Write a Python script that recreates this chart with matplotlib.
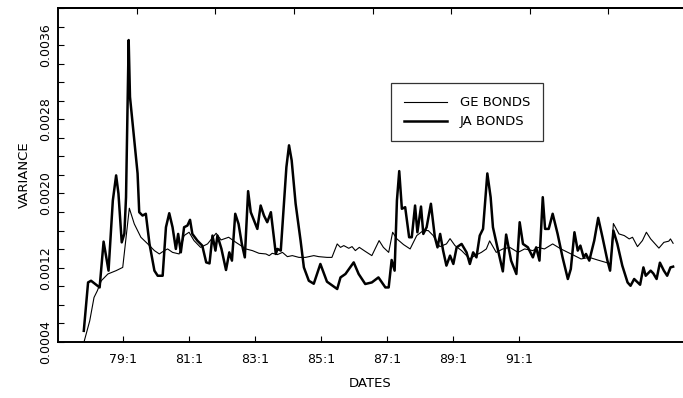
import numpy as np
import matplotlib
matplotlib.use('Agg')
import matplotlib.pyplot as plt
from matplotlib.ticker import MultipleLocator, FixedLocator, FuncFormatter

# JA bonds variance (thick line)
ja_dates = [1977.81, 1977.94, 1978.03, 1978.29, 1978.41, 1978.56, 1978.69, 1978.79, 1978.86, 1978.96,
            1979.04, 1979.09, 1979.17, 1979.21, 1979.34, 1979.44, 1979.49, 1979.59, 1979.69, 1979.80,
            1979.95, 1980.05, 1980.20, 1980.30, 1980.40, 1980.50, 1980.60, 1980.67, 1980.75, 1980.85,
            1980.95, 1981.03, 1981.10, 1981.25, 1981.40, 1981.52, 1981.62, 1981.71, 1981.80, 1981.86,
            1981.98, 1982.12, 1982.22, 1982.30, 1982.40, 1982.50, 1982.60, 1982.69, 1982.79, 1982.87,
            1982.97, 1983.07, 1983.17, 1983.27, 1983.37, 1983.48, 1983.63, 1983.68, 1983.78, 1983.95,
            1984.03, 1984.11, 1984.23, 1984.38, 1984.48, 1984.63, 1984.78, 1984.98, 1985.18, 1985.49,
            1985.59, 1985.74, 1985.99, 1986.14, 1986.34, 1986.54, 1986.74, 1986.95, 1987.05, 1987.14,
            1987.23, 1987.30, 1987.37, 1987.45, 1987.55, 1987.67, 1987.75, 1987.85, 1987.92, 1988.03,
            1988.10, 1988.20, 1988.33, 1988.45, 1988.53, 1988.61, 1988.70, 1988.80, 1988.91, 1989.01,
            1989.11, 1989.26, 1989.41, 1989.51, 1989.61, 1989.71, 1989.81, 1989.91, 1990.04, 1990.14,
            1990.21, 1990.36, 1990.51, 1990.61, 1990.76, 1990.92, 1991.02, 1991.12, 1991.27, 1991.42,
            1991.52, 1991.62, 1991.72, 1991.79, 1991.90, 1992.02, 1992.17, 1992.32, 1992.48, 1992.57,
            1992.68, 1992.78, 1992.86, 1992.96, 1993.03, 1993.13, 1993.28, 1993.40, 1993.53, 1993.68,
            1993.76, 1993.86, 1993.98, 1994.13, 1994.29, 1994.38, 1994.49, 1994.67, 1994.77, 1994.84,
            1994.99, 1995.07, 1995.17, 1995.27, 1995.39, 1995.49, 1995.59, 1995.67]
ja_var = [5.19, 10.41, 10.59, 9.87, 14.81, 11.68, 19.24, 21.95, 20.00, 14.73,
          15.68, 19.60, 36.54, 30.41, 25.73, 22.16, 17.98, 17.62, 17.81, 14.59,
          11.68, 11.13, 11.13, 16.36, 17.87, 16.36, 14.02, 15.64, 13.65, 16.36,
          16.54, 17.16, 15.64, 14.92, 14.38, 12.57, 12.46, 15.46, 13.84, 15.46,
          14.05, 11.75, 13.65, 12.76, 17.81, 16.72, 14.56, 13.11, 20.25, 17.98,
          17.08, 16.18, 18.70, 17.62, 16.90, 17.98, 13.48, 14.02, 13.84, 22.84,
          25.19, 23.57, 18.89, 14.92, 12.03, 10.59, 10.27, 12.40, 10.49, 9.70,
          10.95, 11.32, 12.57, 11.32, 10.24, 10.41, 10.95, 9.87, 9.87, 12.83,
          11.68, 19.24, 22.41, 18.35, 18.52, 15.28, 15.28, 18.70, 15.82, 18.59,
          15.64, 16.36, 18.89, 15.28, 14.19, 15.64, 13.84, 12.22, 13.30, 12.40,
          14.19, 14.56, 13.65, 12.40, 13.65, 13.11, 15.46, 16.18, 22.16, 19.60,
          16.36, 13.95, 11.60, 15.57, 12.76, 11.32, 16.90, 14.56, 14.19, 13.11,
          14.19, 12.76, 19.60, 16.18, 16.18, 17.81, 15.64, 13.11, 10.78, 11.86,
          15.82, 13.84, 14.38, 13.11, 13.48, 12.76, 14.92, 17.37, 15.28, 12.76,
          11.68, 16.00, 14.56, 12.22, 10.41, 10.05, 10.78, 10.16, 12.03, 11.13,
          11.68, 11.38, 10.78, 12.54, 11.68, 11.13, 12.03, 12.11]

# GE bonds variance (thin line)
ge_dates = [1977.81, 1977.99, 1978.12, 1978.22, 1978.34, 1978.54, 1978.79, 1978.99, 1979.19, 1979.34,
            1979.54, 1979.75, 1979.95, 1980.10, 1980.25, 1980.35, 1980.50, 1980.70, 1980.85, 1981.00,
            1981.15, 1981.35, 1981.56, 1981.82, 1981.97, 1982.20, 1982.42, 1982.57, 1982.72, 1982.92,
            1983.12, 1983.33, 1983.43, 1983.52, 1983.68, 1983.83, 1983.98, 1984.13, 1984.33, 1984.53,
            1984.78, 1984.93, 1985.18, 1985.33, 1985.49, 1985.59, 1985.69, 1985.84, 1985.94, 1986.04,
            1986.16, 1986.34, 1986.54, 1986.76, 1986.89, 1987.05, 1987.17, 1987.30, 1987.50, 1987.70,
            1987.90, 1988.10, 1988.25, 1988.40, 1988.60, 1988.80, 1988.91, 1989.06, 1989.26, 1989.51,
            1989.66, 1989.86, 1990.01, 1990.11, 1990.31, 1990.51, 1990.72, 1990.97, 1991.17, 1991.42,
            1991.57, 1991.77, 1992.02, 1992.27, 1992.48, 1992.68, 1992.88, 1993.13, 1993.38, 1993.63,
            1993.78, 1993.86, 1994.03, 1994.19, 1994.34, 1994.44, 1994.59, 1994.74, 1994.86, 1994.99,
            1995.24, 1995.39, 1995.54, 1995.59, 1995.67]
ge_var = [3.90, 6.27, 8.79, 9.51, 10.59, 11.32, 11.68, 12.03, 18.41, 16.72,
          15.28, 14.56, 13.84, 13.48, 13.84, 14.02, 13.65, 13.48, 15.46, 15.82,
          14.92, 14.19, 14.56, 15.71, 14.99, 15.28, 14.73, 14.38, 14.02, 13.84,
          13.55, 13.48, 13.30, 13.55, 13.41, 13.65, 13.19, 13.30, 13.11, 13.11,
          13.30, 13.19, 13.11, 13.11, 14.56, 14.19, 14.38, 14.09, 14.27, 13.84,
          14.19, 13.76, 13.30, 14.92, 14.19, 13.65, 15.82, 15.10, 14.49, 14.02,
          15.46, 16.00, 16.00, 15.46, 14.27, 14.56, 15.13, 14.38, 13.84, 12.94,
          13.30, 13.65, 14.02, 14.89, 13.65, 14.02, 14.19, 13.65, 14.02, 13.84,
          14.19, 14.02, 14.56, 14.02, 13.65, 13.30, 12.94, 13.11, 12.83, 12.57,
          12.40, 16.76, 15.64, 15.46, 15.10, 15.28, 14.27, 14.92, 15.82, 15.10,
          14.11, 14.73, 14.86, 15.10, 14.63]

xtick_years = [1979, 1981, 1983, 1985, 1987, 1989, 1991]
xtick_labels = ['79:1', '81:1', '83:1', '85:1', '87:1', '89:1', '91:1']
top_tick_years = [1979.41, 1981.80, 1984.18, 1986.56, 1988.95, 1991.33, 1993.71]

ja = np.array(ja_var) * 1e-4
ge = np.array(ge_var) * 1e-4

plt.rcParams['font.family'] = 'DejaVu Sans'
fig = plt.figure(figsize=(6.83, 3.98), dpi=100)
ax = fig.add_axes([0.085, 0.141, 0.915, 0.839])

ax.plot(ge_dates, ge, color='black', lw=0.8, label='GE BONDS')
ax.plot(ja_dates, ja, color='black', lw=1.8, label='JA BONDS')

ax.set_xlim(1977.03, 1995.97)
ax.set_ylim(0.0004, 0.0040)

ax.set_xticks(xtick_years)
ax.set_xticklabels(xtick_labels, fontsize=9)
ax.yaxis.set_major_locator(FixedLocator([0.0004, 0.0012, 0.0020, 0.0028, 0.0036]))
ax.yaxis.set_minor_locator(MultipleLocator(0.0002))
ax.yaxis.set_major_formatter(FuncFormatter(lambda v, p: '%.4f' % v))
for lab in ax.get_yticklabels():
    lab.set_rotation(90)
    lab.set_va('center')
    lab.set_fontsize(9)
ax.tick_params(axis='both', which='both', direction='in', length=4, width=0.8, colors='black')
ax.tick_params(axis='x', pad=8)
ax.tick_params(axis='y', pad=4)

top = ax.secondary_xaxis('top')
top.set_xticks(top_tick_years)
top.set_xticklabels([])
top.tick_params(direction='in', length=4, width=0.8)

ax.spines['right'].set_visible(False)
for s in ['left', 'bottom', 'top']:
    ax.spines[s].set_linewidth(1.4)
top.spines['top'].set_linewidth(1.4)

ax.set_xlabel('DATES', fontsize=9.5, labelpad=8)
ax.set_ylabel('VARIANCE', fontsize=9.5, labelpad=6)

leg = ax.legend(loc='upper left', bbox_to_anchor=(0.533, 0.775), borderaxespad=0,
                fontsize=9.5, frameon=True, fancybox=False, edgecolor='black',
                handlelength=3.2, borderpad=1.0, labelspacing=0.45, handletextpad=1.0)
leg.get_frame().set_linewidth(0.9)

fig.savefig('out.png', dpi=100)
